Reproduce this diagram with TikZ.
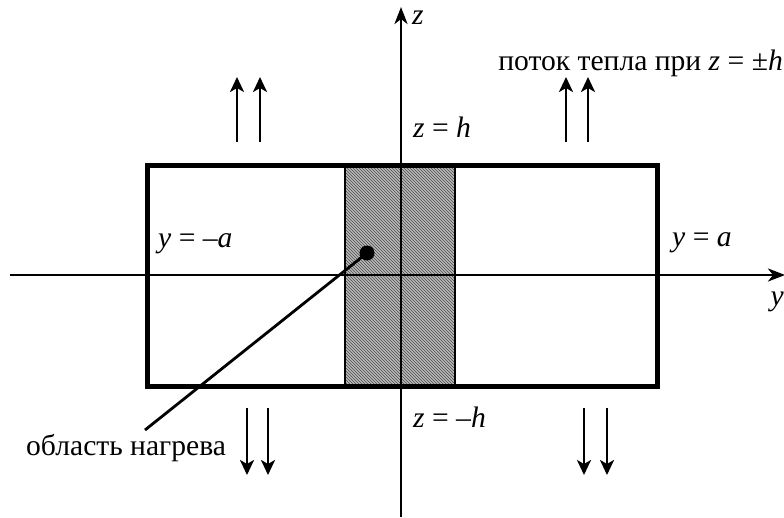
\documentclass[tikz,border=0pt]{standalone}
\usepackage{fontspec}
\setmainfont{Liberation Serif}
\usetikzlibrary{positioning,arrows.meta,patterns}
\tikzset{
  osa/.style={-{Stealth[length=17pt,width=13pt,inset=5pt]},line width=2.8pt},
  sip/.style={-{Stealth[length=15pt,width=14pt,inset=4pt]},line width=2.6pt},
  popis/.style={inner sep=0pt,font=\fontsize{29.6}{34}\selectfont},
  okraj/.style={line width=5pt},
  zona/.style={draw=black,line width=1.3pt},
  bod/.style={circle,fill=black,inner sep=0pt,minimum size=15pt},
}

\begin{document}
\begin{tikzpicture}[x=1pt,y=-1pt]
  \useasboundingbox (0,0) rectangle (784,517);
  % oblast nagreva
  \fill[gray!55] (345,165) rectangle (455,386);
  \fill[pattern=north west lines,pattern color=black!70] (345,165) rectangle (455,386);
  \draw[zona] (345,165) rectangle (455,386);
  \draw[okraj] (147,165) rectangle (657,386);
  % osi
  \coordinate (yl) at (10,275);
  \coordinate (yr) at (785,275);
  \coordinate (zd) at (401,517);
  \coordinate (zu) at (401,7);
  \draw[osa] (yl) -- (yr);
  \draw[osa] (zd) -- (zu);
  \node[popis,anchor=base west] (zosa) at (412,24) {\textit{z}};
  \node[popis,anchor=base east] (yosa) at (784,305) {\textit{y}};
  % granicy
  \node[popis,anchor=base west] (zh) at (413,137) {\textit{z} = \textit{h}};
  \node[popis,anchor=base west] (zmh) at (413,427) {\textit{z} = –\textit{h}};
  \node[popis,anchor=base west] (yma) at (158,247) {\textit{y} = –\textit{a}};
  \node[popis,anchor=base west] (ya) at (672,246) {\textit{y} = \textit{a}};
  % potok tepla
  \node[popis,anchor=base east] (tok) at (783,70) {поток тепла при \textit{z} = ±\textit{h}};
  \foreach \x in {237,260,566,588}{
    \coordinate (n\x) at (\x,142);
    \coordinate (v\x) at (\x,77);
    \draw[sip] (n\x) -- (v\x);
  }
  \foreach \x in {247,268,584,607}{
    \coordinate (h\x) at (\x,408);
    \coordinate (d\x) at (\x,475);
    \draw[sip] (h\x) -- (d\x);
  }
  % istochnik
  \node[bod] (ist) at (367,253) {};
  \node[popis,anchor=base west] (obl) at (26,455) {область нагрева};
  \coordinate (kon) at (145,430);
  \draw[line width=2.8pt] (ist.center) -- (kon);
\end{tikzpicture}
\end{document}
